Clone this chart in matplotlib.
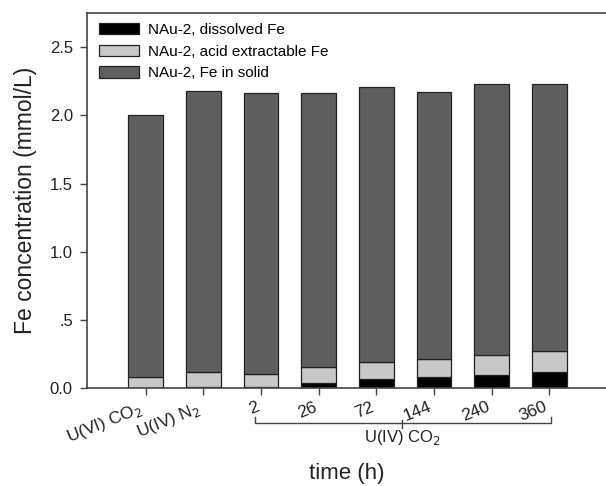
import numpy as np
import matplotlib.pyplot as plt
from matplotlib import transforms

plt.rcParams['font.family'] = ['Liberation Sans', 'DejaVu Sans']

#--------------------------------------------------------------------
# data (mmol/L)
samples = ['U(VI) CO$_2$', 'U(IV) N$_2$', '2', '26', '72', '144', '240', '360']
dissolved = [0.005, 0.007, 0.012, 0.037, 0.066, 0.084, 0.100, 0.123]
acid_extractable = [0.077, 0.110, 0.095, 0.121, 0.130, 0.130, 0.143, 0.154]
fe_solid = [1.923, 2.063, 2.058, 2.007, 2.009, 1.961, 1.987, 1.953]
yticks = [0.0, 0.5, 1.0, 1.5, 2.0, 2.5]
ytick_labels = ['0.0', '.5', '1.0', '1.5', '2.0', '2.5']

#--------------------------------------------------------------------
fig = plt.figure(figsize=(6.06, 4.86), dpi=100)
ax = fig.add_axes([0.143, 0.201, 0.857, 0.772])

x = np.arange(len(samples))
d = np.array(dissolved)
a = np.array(acid_extractable)
s = np.array(fe_solid)
w = 0.6

ax.bar(x, d, w, color='black', edgecolor='#222222', linewidth=0.9,
       label='NAu-2, dissolved Fe')
ax.bar(x, a, w, bottom=d, color='#c8c8c8', edgecolor='#222222', linewidth=0.9,
       label='NAu-2, acid extractable Fe')
ax.bar(x, s, w, bottom=d + a, color='#5f5f5f', edgecolor='#222222', linewidth=0.9,
       label='NAu-2, Fe in solid')

ax.set_xlim(-1.02, 7.98)
ax.set_ylim(0, 2.75)
ax.set_yticks(yticks)
ax.set_yticklabels(ytick_labels, fontsize=12, color='#222222')
ax.set_xticks(x)
ax.set_xticklabels(samples, fontsize=12.5, rotation=22, ha='right', color='#222222')
ax.tick_params(axis='both', direction='out', length=5, width=1, color='#444444')
ax.tick_params(axis='x', pad=3)
ax.tick_params(axis='y', pad=5)

for side in ['left', 'bottom', 'top']:
    ax.spines[side].set_color('#444444')
    ax.spines[side].set_linewidth(1.2)
ax.spines['right'].set_visible(False)

ax.set_ylabel('Fe concentration (mmol/L)', fontsize=16.5, color='#222222', va='center')
ax.yaxis.set_label_coords(-0.118, 0.5)
ax.set_xlabel('time (h)', fontsize=16, color='#222222', va='center')
ax.xaxis.set_label_coords(0.5, -0.228)

#---------
# bracket under the U(IV) CO2 time points
#---------
tr = transforms.blended_transform_factory(ax.transData, ax.transAxes)
bx0, bx1 = 1.9, 7.03
by = -0.093
ax.plot([bx0, bx0, bx1, bx1], [-0.076, by, by, -0.076], transform=tr,
        color='#444444', lw=1, clip_on=False)
mid = 4.45
ax.plot([mid, mid], [by + 0.008, by - 0.012], transform=tr,
        color='#444444', lw=1, clip_on=False)
ax.text(mid, -0.131, 'U(IV) CO$_2$', transform=tr, ha='center', va='center',
        fontsize=12, color='#222222')

#---------
# legend
#---------
ax.legend(loc='upper left', bbox_to_anchor=(-0.003, 1.01), frameon=False,
          fontsize=11, handlelength=2.6, handleheight=0.75,
          labelspacing=0.5, handletextpad=0.6)

fig.savefig('out.png', dpi=100)
